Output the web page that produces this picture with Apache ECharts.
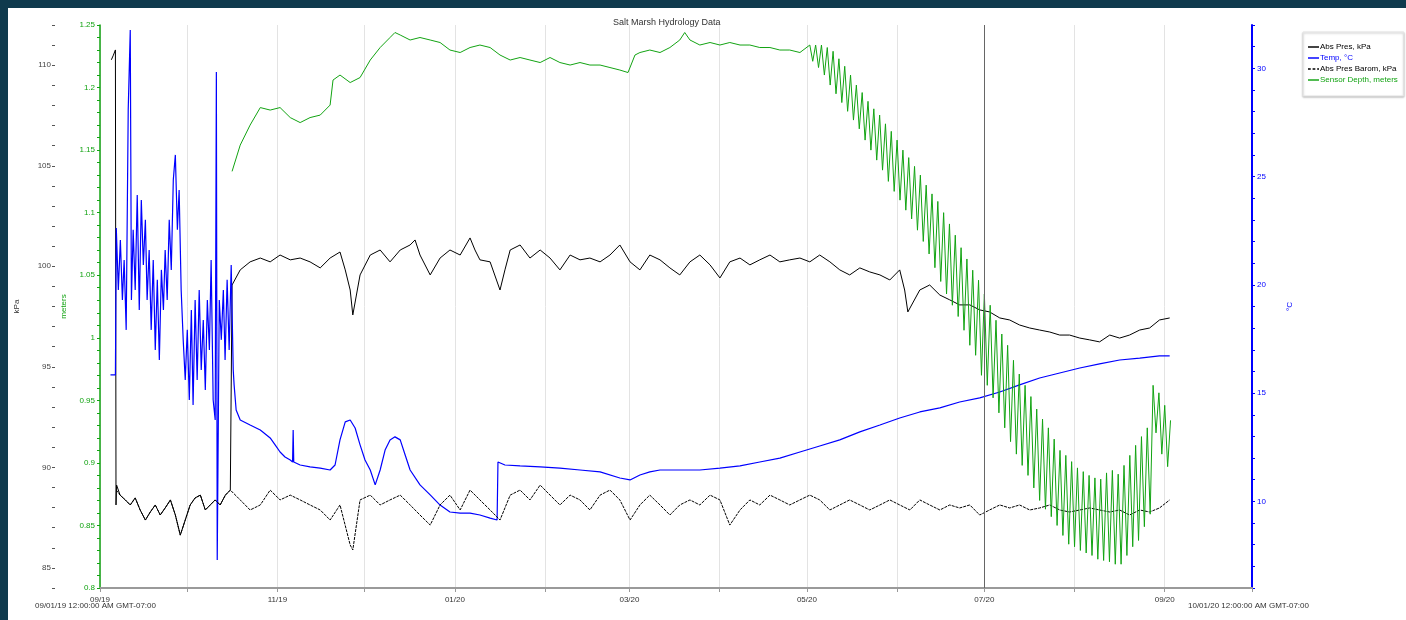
<!DOCTYPE html>
<html><head><meta charset="utf-8">
<script src="https://cdn.jsdelivr.net/npm/echarts@6/dist/echarts.min.js"></script>
<style>
html,body{margin:0;padding:0;background:#0f3a4d;width:1406px;height:620px;overflow:hidden;}
#frame{position:absolute;left:8px;top:8px;width:1398px;height:612px;background:#fff;}
#chart{position:absolute;left:0;top:0;width:1406px;height:620px;}
</style></head>
<body><div id="frame"></div><div id="chart"></div>
<script>
// ---- data (x = days since 2019-09-01 00:00) ----
const chartTitle = 'Salt Marsh Hydrology Data';
const seriesNames = ['Abs Pres, kPa', 'Temp, °C', 'Abs Pres Barom, kPa', 'Sensor Depth, meters'];
const rangeLabels = ['09/01/19 12:00:00 AM GMT-07:00', '10/01/20 12:00:00 AM GMT-07:00'];
const monthTicks = ['2019-09-01','2019-10-01','2019-11-01','2019-12-01','2020-01-01','2020-02-01','2020-03-01','2020-04-01','2020-05-01','2020-06-01','2020-07-01','2020-08-01','2020-09-01','2020-10-01'];
const monthLabels = ['2019-09-01','2019-11-01','2020-01-01','2020-03-01','2020-05-01','2020-07-01','2020-09-01'];
const markedDay = '2020-07-01';
const kpaTicks = [84,85,86,87,88,89,90,91,92,93,94,95,96,97,98,99,100,101,102,103,104,105,106,107,108,109,110,111,112];
const kpaLabels = [85,90,95,100,105,110];
const depthTicks = [0.8,0.81,0.82,0.83,0.84,0.85,0.86,0.87,0.88,0.89,0.9,0.91,0.92,0.93,0.94,0.95,0.96,0.97,0.98,0.99,1,1.01,1.02,1.03,1.04,1.05,1.06,1.07,1.08,1.09,1.1,1.11,1.12,1.13,1.14,1.15,1.16,1.17,1.18,1.19,1.2,1.21,1.22,1.23,1.24,1.25];
const depthLabels = [0.8,0.85,0.9,0.95,1,1.05,1.1,1.15,1.2,1.25];
const tempTicks = [6,7,8,9,10,11,12,13,14,15,16,17,18,19,20,21,22,23,24,25,26,27,28,29,30,31,32];
const tempLabels = [10,15,20,25,30];

const absPres = [
 [3.9,110.27],[4.6,110.5],[5.3,110.76],[5.5,88.13],[5.7,89.12],[6.9,88.62],[8.7,88.38],[10.4,88.13],[12.1,88.48],[13.8,87.88],
 [15.6,87.38],[17.3,87.78],[19.0,88.13],[20.7,87.63],[22.4,87.98],[24.2,88.38],[25.9,87.63],[27.6,86.63],[29.3,87.38],[31.0,88.13],
 [32.7,88.48],[34.5,88.62],[36.2,87.88],[37.9,88.13],[39.6,88.38],[41.3,88.13],[43.1,88.62],[44.8,88.87],
 [45.4,99.07],[48.2,99.82],[51.6,100.22],[55.1,100.41],[58.5,100.22],[61.9,100.56],[65.4,100.32],[68.8,100.41],[72.2,100.22],
 [75.7,99.92],[79.1,100.41],[82.5,100.71],[84.3,99.82],[86.0,98.82],[86.9,97.58],[89.4,99.57],[92.9,100.56],[96.3,100.81],
 [99.7,100.22],[103.2,100.81],[106.6,101.06],[108.3,101.31],[110.0,100.56],[113.5,99.57],[116.9,100.41],[120.3,100.81],
 [123.8,100.56],[127.2,101.41],[128.9,100.81],[130.6,100.32],[134.1,100.22],[137.5,98.82],[139.2,99.82],[141.0,100.81],
 [144.4,101.06],[147.8,100.41],[151.3,100.81],[154.7,100.41],[158.1,99.82],[161.6,100.56],[165.0,100.32],[168.4,100.41],
 [171.9,100.22],[175.3,100.56],[178.7,101.06],[182.2,100.22],[185.6,99.82],[189.0,100.56],[192.5,100.32],[195.9,99.92],
 [199.3,99.57],[202.8,100.22],[206.2,100.56],[209.7,100.07],[213.1,99.42],[216.5,100.22],[220.0,100.41],[223.4,100.07],
 [226.8,100.32],[230.3,100.56],[233.7,100.22],[237.1,100.32],[240.6,100.41],[244.0,100.22],[247.4,100.56],[250.9,100.22],
 [254.3,99.82],[257.7,99.57],[261.2,99.92],[264.6,99.72],[268.1,99.57],[271.5,99.32],[274.9,99.82],[276.6,98.82],[277.7,97.73],
 [281.8,98.82],[285.2,99.07],[288.7,98.57],[292.1,98.33],[295.5,98.08],[299.0,98.08],[302.4,97.83],[305.8,97.73],[309.3,97.43],
 [312.7,97.33],[316.1,97.08],[319.6,96.93],[323.0,96.83],[326.5,96.73],[329.9,96.58],[333.3,96.58],[336.8,96.43],[340.2,96.34],
 [343.6,96.24],[347.1,96.58],[350.5,96.43],[353.9,96.58],[357.4,96.83],[360.8,96.93],[364.2,97.33],[367.7,97.43]
];

const barom = [
 [5.6,88.87],[6.9,88.62],[8.7,88.38],[10.4,88.13],[12.1,88.48],[13.8,87.88],[15.6,87.38],[17.3,87.78],[19.0,88.13],[20.7,87.63],
 [22.4,87.98],[24.2,88.38],[25.9,87.63],[27.6,86.63],[29.3,87.38],[31.0,88.13],[32.7,88.48],[34.5,88.62],[36.2,87.88],[37.9,88.13],
 [39.6,88.38],[41.3,88.13],[43.1,88.62],[44.8,88.87],[48.2,88.38],[51.6,87.88],[55.1,88.13],[58.5,88.87],[61.9,88.38],[65.4,88.62],
 [68.8,88.38],[72.2,88.13],[75.7,87.88],[79.1,87.38],[82.5,88.13],[86.0,86.14],[86.9,85.89],[89.4,88.38],[92.9,88.62],[96.3,88.13],
 [99.7,88.38],[103.2,88.62],[106.6,88.13],[110.0,87.63],[113.5,87.13],[116.9,88.13],[120.3,88.62],[123.8,87.88],[127.2,88.87],
 [130.6,88.38],[134.1,87.88],[137.5,87.38],[141.0,88.62],[144.4,88.87],[147.8,88.38],[151.3,89.12],[154.7,88.62],[158.1,88.13],
 [161.6,88.62],[165.0,88.38],[168.4,87.88],[171.9,88.62],[175.3,88.87],[178.7,88.38],[182.2,87.38],[185.6,88.13],[189.0,88.62],
 [192.5,88.13],[195.9,87.63],[199.3,88.13],[202.8,88.38],[206.2,88.13],[209.7,88.62],[213.1,88.38],[216.5,87.13],[220.0,87.88],
 [223.4,88.38],[226.8,88.13],[230.3,88.62],[233.7,88.38],[237.1,88.13],[240.6,88.38],[244.0,88.62],[247.4,88.38],[250.9,87.88],
 [254.3,88.13],[257.7,88.38],[261.2,88.13],[264.6,87.88],[268.1,88.13],[271.5,88.38],[274.9,88.13],[278.4,87.88],[281.8,88.38],
 [285.2,88.13],[288.7,87.88],[292.1,88.13],[295.5,87.98],[299.0,88.13],[302.4,87.63],[305.8,87.88],[309.3,88.13],[312.7,87.98],
 [316.1,88.13],[319.6,87.88],[323.0,87.98],[326.5,88.13],[329.9,87.88],[333.3,87.78],[336.8,87.88],[340.2,87.98],[343.6,87.88],
 [347.1,87.78],[350.5,87.88],[353.9,87.63],[357.4,87.88],[360.8,87.78],[364.2,87.98],[367.7,88.38]
];

const temp = [
 [3.6,15.84],[5.3,15.84],[5.6,22.63],[6.3,19.76],[7.0,22.07],[7.7,19.30],[8.3,21.15],[9.0,17.92],[9.7,28.08],[10.4,31.77],
 [10.8,19.30],[11.4,22.54],[12.1,19.76],[12.8,24.15],[13.5,18.84],[14.2,23.92],[14.9,20.92],[15.6,23.00],[16.2,19.30],[16.9,21.61],
 [17.6,17.92],[18.3,21.15],[19.0,16.99],[19.7,20.23],[20.4,16.53],[21.1,20.69],[21.8,18.84],[22.4,21.61],[23.1,19.30],[23.8,23.00],
 [24.5,20.69],[25.2,24.85],[25.9,26.00],[26.6,22.54],[27.2,24.38],[27.9,19.76],[28.6,17.46],[29.3,15.61],[30.0,17.92],[30.7,14.68],
 [31.4,18.84],[32.0,14.45],[32.7,19.30],[33.4,15.61],[34.1,19.76],[34.8,16.07],[35.5,18.38],[36.2,15.15],[36.9,19.30],[37.6,16.99],
 [38.2,21.15],[38.9,14.68],[39.6,13.76],[40.0,29.83],[40.3,7.29],[41.0,19.30],[41.7,17.46],[42.4,19.76],[43.0,16.53],[43.7,20.23],
 [44.4,16.99],[45.1,20.92],[45.8,16.07],[46.1,15.38],[46.8,14.22],[48.2,13.76],[51.6,13.53],[55.1,13.30],[58.5,12.93],[60.2,12.61],
 [61.9,12.28],[63.6,12.05],[65.4,11.91],[66.2,11.82],[66.4,13.30],[66.6,11.82],[68.8,11.68],[72.2,11.59],[75.7,11.54],[79.1,11.45],
 [80.8,11.68],[82.5,12.84],[84.3,13.67],[86.0,13.76],[87.7,13.39],[89.4,12.61],[91.1,11.91],[92.9,11.45],[94.6,10.76],[96.3,11.45],
 [98.0,12.37],[99.7,12.84],[101.4,12.98],[103.2,12.84],[104.9,12.14],[106.6,11.45],[110.0,10.76],[113.5,10.30],[116.9,9.83],
 [120.3,9.51],[123.8,9.46],[127.2,9.46],[130.6,9.37],[134.1,9.23],[136.5,9.14],[136.8,11.82],[139.2,11.68],[144.4,11.64],
 [151.3,11.59],[158.1,11.54],[165.0,11.45],[171.9,11.36],[178.7,11.08],[182.2,10.99],[185.6,11.22],[189.0,11.36],[192.5,11.45],
 [199.3,11.45],[206.2,11.45],[213.1,11.54],[220.0,11.64],[226.8,11.82],[233.7,12.00],[240.6,12.28],[247.4,12.56],[254.3,12.84],
 [261.2,13.21],[268.1,13.53],[274.9,13.85],[281.8,14.13],[288.7,14.32],[295.5,14.59],[302.4,14.78],[309.3,15.05],[316.1,15.38],
 [323.0,15.70],[329.9,15.93],[336.8,16.16],[343.6,16.35],[350.5,16.53],[357.4,16.62],[364.2,16.72],[367.7,16.72]
];

const depth = [
 [45.4,1.133],[48.2,1.154],[51.6,1.170],[55.1,1.184],[58.5,1.182],[61.9,1.184],[65.4,1.176],[68.8,1.172],[72.2,1.176],[75.7,1.178],
 [79.1,1.186],[80.1,1.206],[82.5,1.210],[86.0,1.204],[89.4,1.208],[92.9,1.222],[96.3,1.232],[99.7,1.240],[101.4,1.244],[103.2,1.242],
 [106.6,1.238],[110.0,1.240],[113.5,1.238],[116.9,1.236],[120.3,1.230],[123.8,1.228],[127.2,1.232],[130.6,1.234],[134.1,1.232],
 [137.5,1.226],[141.0,1.222],[144.4,1.224],[147.8,1.222],[151.3,1.220],[154.7,1.224],[158.1,1.220],[161.6,1.218],[165.0,1.220],
 [168.4,1.218],[171.9,1.218],[175.3,1.216],[178.7,1.214],[181.5,1.212],[183.9,1.226],[185.6,1.228],[189.0,1.230],[192.5,1.228],
 [195.9,1.232],[199.3,1.238],[201.0,1.244],[202.8,1.238],[206.2,1.234],[209.7,1.236],[213.1,1.234],[216.5,1.236],[220.0,1.234],
 [223.4,1.234],[226.8,1.232],[230.3,1.232],[233.7,1.230],[237.1,1.230],[240.6,1.228],
 [244,1.234],[245,1.221],[246,1.234],[247,1.216],[248,1.234],[249,1.210],[250,1.232],[251,1.202],[252,1.229],[253,1.195],
 [254,1.223],[255,1.188],[256,1.217],[257,1.181],[258,1.210],[259,1.174],[260,1.202],[261,1.167],[262,1.196],[263,1.158],
 [264,1.189],[265,1.150],[266,1.183],[267,1.142],[268,1.178],[269,1.134],[270,1.171],[271,1.125],[272,1.165],[273,1.117],
 [274,1.158],[275,1.110],[276,1.150],[277,1.102],[278,1.144],[279,1.095],[280,1.137],[281,1.086],[282,1.130],[283,1.077],
 [284,1.122],[285,1.067],[286,1.115],[287,1.056],[288,1.109],[289,1.045],[290,1.100],[291,1.035],[292,1.091],[293,1.026],
 [294,1.082],[295,1.017],[296,1.072],[297,1.006],[298,1.063],[299,0.994],[300,1.054],[301,0.986],[302,1.046],[303,0.970],
 [304,1.035],[305,0.962],[306,1.026],[307,0.952],[308,1.014],[309,0.940],[310,1.003],[311,0.928],[312,0.994],[313,0.917],
 [314,0.982],[315,0.907],[316,0.971],[317,0.898],[318,0.962],[319,0.890],[320,0.953],[321,0.880],[322,0.943],[323,0.870],
 [324,0.935],[325,0.863],[326,0.928],[327,0.857],[328,0.919],[329,0.850],[330,0.910],[331,0.842],[332,0.906],[333,0.835],
 [334,0.901],[335,0.833],[336,0.896],[337,0.830],[338,0.893],[339,0.828],[340,0.890],[341,0.826],[342,0.888],[343,0.823],
 [344,0.887],[345,0.822],[346,0.892],[347,0.821],[348,0.894],[349,0.819],[350,0.891],[351,0.819],[352,0.898],[353,0.826],
 [354,0.906],[355,0.833],[356,0.914],[357,0.838],[358,0.921],[359,0.849],[360,0.928],[361,0.859],[362,0.962],[363,0.924],
 [364,0.956],[365,0.907],[366,0.946],[367,0.897],[368,0.934]
];

// ---- build ----
const DAY = 86400000;
const T0 = Date.UTC(2019, 8, 1);
const ts = s => { const p = s.split('-').map(Number); return Date.UTC(p[0], p[1]-1, p[2]); };
const toPts = arr => arr.map(p => [T0 + p[0]*DAY, p[1]]);
const pad = n => (n < 10 ? '0' : '') + n;
const FONT = 'Liberation Sans, Arial, sans-serif';
const GREEN = '#12a312', BLUE = '#0000ff';
const LINE_ICON = 'path://M0,0H12V1.6H0Z';

const chart = echarts.init(document.getElementById('chart'), null, {renderer: 'canvas'});
chart.setOption({
  animation: false,
  textStyle: {fontFamily: FONT},
  title: {text: chartTitle, left: 608, top: 13, textStyle: {fontSize: 9, fontWeight: 'normal', color: '#333', fontFamily: FONT}},
  legend: {
    orient: 'vertical', left: 1303, top: 32, padding: [11, 6, 12, 5], itemGap: 3,
    itemWidth: 11, itemHeight: 2, backgroundColor: '#fff', borderColor: '#e4e4e4', borderWidth: 1,
    shadowColor: 'rgba(0,0,0,0.25)', shadowBlur: 2, shadowOffsetY: 1,
    textStyle: {fontSize: 8, fontFamily: FONT, padding: [0,0,0,-4]},
    data: [
      {name: seriesNames[0], icon: LINE_ICON, textStyle: {color: '#000'}},
      {name: seriesNames[1], icon: LINE_ICON, textStyle: {color: BLUE}},
      {name: seriesNames[2], icon: 'path://M0,0H3V1.6H0ZM5,0H8V1.6H5ZM10,0H12V1.6H10Z', textStyle: {color: '#000'}},
      {name: seriesNames[3], icon: LINE_ICON, textStyle: {color: GREEN}}
    ]
  },
  grid: {left: 100, right: 154, top: 25, bottom: 32, containLabel: false},
  xAxis: {
    type: 'value', min: ts(monthTicks[0]), max: ts(monthTicks[monthTicks.length-1]),
    axisLine: {show: true, lineStyle: {color: '#9a9a9a', width: 2}},
    axisTick: {show: true, length: 4, lineStyle: {color: '#999'}, customValues: monthTicks.map(ts)},
    axisLabel: {customValues: monthLabels.map(ts), fontSize: 8, color: '#333', margin: 8,
      formatter: v => { const d = new Date(v); return pad(d.getUTCMonth()+1) + '/' + pad(d.getUTCFullYear() % 100); }},
    splitLine: {show: true, lineStyle: {color: '#e3e3e3', width: 1}}
  },
  yAxis: [
    {type: 'value', position: 'left', offset: 45, min: 84, max: 112, name: 'kPa', nameLocation: 'middle', nameGap: 34,
     nameTextStyle: {fontSize: 8, color: '#333'},
     axisLine: {show: false}, splitLine: {show: false},
     axisTick: {show: true, length: 3, inside: false, customValues: kpaTicks, lineStyle: {color: '#555'}},
     axisLabel: {customValues: kpaLabels, fontSize: 8, color: '#444', margin: 4}},
    {type: 'value', position: 'left', offset: 0, min: 0.8, max: 1.25, name: 'meters', nameLocation: 'middle', nameGap: 32,
     nameTextStyle: {fontSize: 8, color: GREEN},
     axisLine: {show: true, lineStyle: {color: GREEN, width: 1.5}}, splitLine: {show: false},
     axisTick: {show: true, length: 3, customValues: depthTicks, lineStyle: {color: GREEN}},
     axisLabel: {customValues: depthLabels, fontSize: 8, color: GREEN, margin: 5, formatter: v => String(+(+v).toFixed(2))}},
    {type: 'value', position: 'right', offset: 0, min: 6, max: 32, name: '°C', nameLocation: 'middle', nameGap: 34,
     nameTextStyle: {fontSize: 8, color: BLUE},
     axisLine: {show: true, lineStyle: {color: BLUE, width: 2}}, splitLine: {show: false},
     axisTick: {show: true, length: 3, customValues: tempTicks, lineStyle: {color: BLUE}},
     axisLabel: {customValues: tempLabels, fontSize: 8, color: BLUE, margin: 5}}
  ],
  series: [
    {name: seriesNames[0], type: 'line', yAxisIndex: 0, data: toPts(absPres), showSymbol: false, symbol: 'none',
     lineStyle: {color: '#000', width: 1}, itemStyle: {color: '#000'},
     markLine: {silent: true, symbol: 'none', label: {show: false}, lineStyle: {color: '#666', type: 'solid', width: 1},
       data: [{xAxis: ts(markedDay)}]}},
    {name: seriesNames[1], type: 'line', yAxisIndex: 2, data: toPts(temp), showSymbol: false, symbol: 'none',
     lineStyle: {color: BLUE, width: 1.2}, itemStyle: {color: BLUE}},
    {name: seriesNames[2], type: 'line', yAxisIndex: 0, data: toPts(barom), showSymbol: false, symbol: 'none',
     lineStyle: {color: '#000', width: 1, type: [3, 1]}, itemStyle: {color: '#000'}},
    {name: seriesNames[3], type: 'line', yAxisIndex: 1, data: toPts(depth), showSymbol: false, symbol: 'none',
     lineStyle: {color: GREEN, width: 1}, itemStyle: {color: GREEN}}
  ],
  graphic: [
    {type: 'text', left: 35, top: 602, style: {text: rangeLabels[0], font: '8px ' + FONT, fill: '#333'}},
    {type: 'text', left: 1188, top: 602, style: {text: rangeLabels[1], font: '8px ' + FONT, fill: '#333'}}
  ]
});
</script>
</body></html>
